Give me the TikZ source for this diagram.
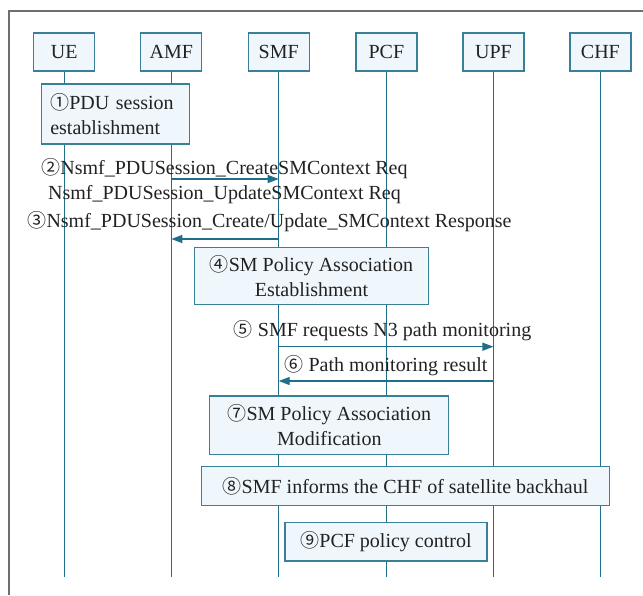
\documentclass[tikz,border=0pt]{standalone}
\usepackage{fontspec}
\setmainfont{Liberation Serif}
\newfontfamily\serifF{Liberation Serif}
\newfontfamily\cfont{Noto Sans CJK SC}
\usetikzlibrary{arrows.meta}
\definecolor{lineC}{HTML}{1F6F8B}
\definecolor{boxfill}{HTML}{EFF7FC}
\definecolor{boxline}{HTML}{3A7F98}
\definecolor{txt}{HTML}{222222}
\definecolor{frameC}{HTML}{6E6E6E}
\newcommand{\cn}[1]{{\cfont\fontsize{19}{25}\selectfont #1}}
\begin{document}
\begin{tikzpicture}[x=1pt,y=-1pt, font=\serifF\fontsize{20}{25}\selectfont, text=txt,
  hdr/.style={draw=boxline, fill=boxfill, line width=1.3pt, minimum width=61pt, minimum height=38pt, inner sep=0pt},
  stepbox/.style={draw=boxline, fill=boxfill, line width=1.3pt, inner sep=0pt, align=center},
  life/.style={draw=lineC, line width=1.2pt},
  msg/.style={draw=lineC, line width=1.3pt, -{Triangle[length=11pt,width=8pt]}},
  lbl/.style={inner sep=0pt, align=center}]
\useasboundingbox (0,0) rectangle (643,595);
\draw[frameC, line width=1.5pt] (9,595) -- (9,11) -- (643,11);

% headers
\node[hdr] (ue)  at (64.3,52)  {UE};
\node[hdr] (amf) at (171.3,52) {AMF};
\node[hdr] (smf) at (278.7,52) {SMF};
\node[hdr] (pcf) at (386.4,52) {PCF};
\node[hdr] (upf) at (493.4,52) {UPF};
\node[hdr] (chf) at (600.4,52) {CHF};

% lifeline ends
\coordinate (ueE)  at (64.3,577);
\coordinate (amfE) at (171.3,577);
\coordinate (smfE) at (278.7,577);
\coordinate (pcfE) at (386.4,577);
\coordinate (upfE) at (493.4,577);
\coordinate (chfE) at (600.4,577);
\draw[life] (ue.south) -- (ueE);
\draw[life] (amf.south) -- (amfE);
\draw[life] (smf.south) -- (smfE);
\draw[life] (pcf.south) -- (pcfE);
\draw[life] (upf.south) -- (upfE);
\draw[life] (chf.south) -- (chfE);

% step boxes
\node[stepbox, minimum width=148pt, minimum height=60pt, text width=130pt, align=left] (s1) at (115.3,114) {\cn{①}PDU session\\establishment};
\node[stepbox, minimum width=233.6pt, minimum height=56.6pt] (s4) at (311.5,276) {\cn{④}SM Policy Association\\Establishment};
\node[stepbox, minimum width=239pt, minimum height=58.7pt] (s7) at (329.3,425.3) {\cn{⑦}SM Policy Association\\Modification};
\node[stepbox, minimum width=408pt, minimum height=38.6pt] (s8) at (405.5,486) {\cn{⑧}SMF informs the CHF of satellite backhaul};
\node[stepbox, minimum width=202pt, minimum height=38.7pt] (s9) at (386,541.7) {\cn{⑨}PCF policy control};

% messages
\coordinate (m2a) at (171.3,179);
\coordinate (m2b) at (278.7,179);
\draw[msg] (m2a) -- (m2b);
\node[lbl] (l2) at (224.5,181) {\cn{②}Nsmf\_PDUSession\_CreateSMContext Req\\Nsmf\_PDUSession\_UpdateSMContext Req};

\coordinate (m3a) at (278.7,239);
\coordinate (m3b) at (171.3,239);
\draw[msg] (m3a) -- (m3b);
\node[lbl] (l3) at (269.5,222) {\cn{③}Nsmf\_PDUSession\_Create/Update\_SMContext Response};

\coordinate (m5a) at (278.7,346.7);
\coordinate (m5b) at (493.4,346.7);
\draw[msg] (m5a) -- (m5b);
\node[lbl] (l5) at (382.6,331) {\cn{⑤} SMF requests N3 path monitoring};

\coordinate (m6a) at (493.4,381);
\coordinate (m6b) at (278.7,381);
\draw[msg] (m6a) -- (m6b);
\node[lbl] (l6) at (386,366) {\cn{⑥} Path monitoring result};
\end{tikzpicture}
\end{document}
